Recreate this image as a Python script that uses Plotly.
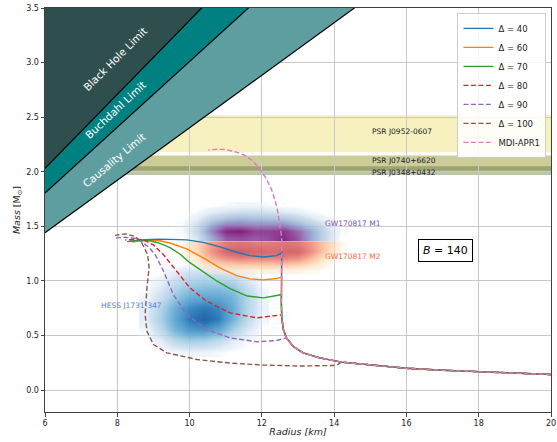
import plotly.graph_objects as go

# ---------------- data ----------------
# shared hadronic (MDI-APR1) branch, increasing mass
HAD_R = [20.0, 19.0, 18.0, 17.0, 16.0, 15.0, 14.2, 13.6, 13.14, 12.87, 12.68, 12.59, 12.55,
         12.54, 12.54, 12.55, 12.55, 12.5, 12.45, 12.38, 12.27, 12.1, 11.95, 11.75, 11.5,
         11.25, 11.0, 10.75, 10.52]
HAD_M = [0.143, 0.155, 0.168, 0.183, 0.200, 0.228, 0.257, 0.296, 0.342, 0.40, 0.479, 0.56, 0.68,
         0.80, 1.00, 1.20, 1.40, 1.50, 1.62, 1.72, 1.836, 1.95, 2.02, 2.10, 2.155,
         2.185, 2.203, 2.207, 2.200]

# hybrid branches (from the transition point leftwards)
D40_R = [12.55, 12.41, 12.04, 11.67, 11.30, 10.84, 10.38, 9.92, 9.46, 9.18, 8.72, 8.31]
D40_M = [1.257, 1.232, 1.220, 1.232, 1.263, 1.312, 1.354, 1.376, 1.382, 1.383, 1.377, 1.363]
D60_R = [12.55, 12.41, 12.04, 11.67, 11.30, 10.84, 10.38, 9.92, 9.46, 9.18, 8.72, 8.40]
D60_M = [1.037, 1.022, 1.010, 1.019, 1.049, 1.120, 1.211, 1.294, 1.348, 1.368, 1.372, 1.356]
D70_R = [12.54, 12.45, 12.04, 11.60, 11.12, 10.75, 10.38, 10.0, 9.74, 9.46, 9.18, 8.90, 8.72, 8.50, 8.27]
D70_M = [0.876, 0.869, 0.845, 0.862, 0.930, 1.000, 1.080, 1.170, 1.245, 1.305, 1.345, 1.368, 1.372, 1.368, 1.360]
D80_R = [12.54, 12.45, 11.86, 11.12, 10.47, 10.01, 9.65, 9.28, 9.00, 8.72, 8.50, 8.22]
D80_M = [0.690, 0.686, 0.662, 0.708, 0.814, 0.937, 1.089, 1.240, 1.330, 1.378, 1.383, 1.375]
D90_R = [12.68, 12.41, 11.86, 11.12, 10.47, 9.92, 9.55, 9.28, 9.06, 8.90, 8.72, 8.54, 8.22, 7.94]
D90_M = [0.479, 0.455, 0.443, 0.479, 0.555, 0.693, 0.876, 1.089, 1.235, 1.300, 1.350, 1.388, 1.400, 1.394]
D100_R = [14.2, 14.1, 13.97, 13.05, 12.04, 11.12, 10.2, 9.37, 9.0, 8.82, 8.77, 8.82, 8.88, 8.84,
          8.68, 8.49, 8.22, 7.94]
D100_M = [0.257, 0.235, 0.226, 0.221, 0.230, 0.248, 0.281, 0.342, 0.418, 0.540, 0.693, 0.937, 1.120,
          1.240, 1.348, 1.409, 1.431, 1.418]

LABELS = ["Δ = 40", "Δ = 60", "Δ = 70", "Δ = 80", "Δ = 90", "Δ = 100"]
BRANCHES = [(D40_R, D40_M), (D60_R, D60_M), (D70_R, D70_M), (D80_R, D80_M), (D90_R, D90_M), (D100_R, D100_M)]
COLORS = ["#1f77b4", "#ff7f0e", "#2ca02c", "#d62728", "#9467bd", "#8c564b"]
DASHED = [False, False, False, True, True, True]

# limits: M = slope * R  (M in Msun, R in km)
BH_SLOPE = 1 / 2.953
BUCH_SLOPE = 1 / 3.322
CAUS_SLOPE = 1 / 4.16
LIMIT_R = [6.0, 20.0]

# pulsar mass bands (lo, hi)
PSR_NAMES = ["PSR J0952-0607", "PSR J0740+6620", "PSR J0348+0432"]
PSR_LO = [2.18, 2.01, 1.97]
PSR_HI = [2.52, 2.15, 2.05]
PSR_LABEL_M = [2.37, 2.10, 1.995]
PSR_FILL = ["rgba(240,230,140,0.55)", "rgba(128,128,0,0.4)", "rgba(85,107,47,0.4)"]

# density grids
HESS_R = [8.8, 9.2, 9.6, 10.0, 10.4, 10.8, 11.2, 11.6, 12.0]
HESS_M = [0.35, 0.45, 0.55, 0.65, 0.75, 0.85, 0.95, 1.05, 1.15]
HESS_Z = [
    [0, 0, 0.02, 0.04, 0.04, 0.02, 0, 0, 0],
    [0, 0.08, 0.25, 0.35, 0.32, 0.22, 0.08, 0.02, 0],
    [0.02, 0.25, 0.55, 0.72, 0.75, 0.62, 0.35, 0.12, 0],
    [0.08, 0.35, 0.65, 0.90, 1.0, 0.88, 0.55, 0.25, 0.03],
    [0.08, 0.32, 0.60, 0.82, 0.90, 0.82, 0.60, 0.30, 0.05],
    [0.03, 0.20, 0.42, 0.60, 0.65, 0.65, 0.55, 0.30, 0.04],
    [0, 0.10, 0.28, 0.40, 0.45, 0.45, 0.40, 0.20, 0.02],
    [0, 0.02, 0.12, 0.22, 0.25, 0.22, 0.16, 0.06, 0],
    [0, 0, 0, 0.02, 0.03, 0.02, 0, 0, 0],
]
GW_R = [9.8, 10.2, 10.6, 11.0, 11.4, 11.8, 12.2, 12.6, 13.0, 13.4, 13.8, 14.2]
M1_M = [1.393, 1.453, 1.513, 1.573, 1.633, 1.693]
M1_Z = [
    [0, 0.12, 0.40, 0.70, 0.75, 0.70, 0.75, 0.90, 0.70, 0.40, 0.15, 0],
    [0.02, 0.18, 0.55, 0.90, 0.95, 0.80, 0.80, 0.85, 0.65, 0.40, 0.15, 0.02],
    [0.02, 0.15, 0.40, 0.60, 0.60, 0.55, 0.55, 0.55, 0.40, 0.25, 0.10, 0],
    [0, 0.06, 0.20, 0.30, 0.35, 0.32, 0.30, 0.28, 0.20, 0.10, 0.03, 0],
    [0, 0.02, 0.08, 0.12, 0.15, 0.15, 0.13, 0.10, 0.06, 0.02, 0, 0],
    [0, 0, 0, 0.02, 0.03, 0.03, 0.02, 0, 0, 0, 0, 0],
]
M2_M = [1.093, 1.153, 1.213, 1.273, 1.333]
M2_Z = [
    [0, 0, 0.02, 0.03, 0.04, 0.04, 0.04, 0.04, 0.03, 0.02, 0, 0],
    [0, 0.04, 0.15, 0.25, 0.28, 0.28, 0.28, 0.28, 0.25, 0.12, 0.02, 0],
    [0, 0.10, 0.40, 0.60, 0.70, 0.65, 0.65, 0.70, 0.60, 0.35, 0.08, 0],
    [0.02, 0.18, 0.55, 0.85, 0.95, 0.85, 0.80, 0.85, 0.85, 0.55, 0.20, 0.02],
    [0.02, 0.20, 0.50, 0.70, 0.75, 0.70, 0.70, 0.75, 0.70, 0.50, 0.22, 0.02],
]

X_TICKS = [6, 8, 10, 12, 14, 16, 18, 20]
Y_TICKS = [0.0, 0.5, 1.0, 1.5, 2.0, 2.5, 3.0, 3.5]

FONT = "DejaVu Sans"

# ---------------- figure ----------------
fig = go.Figure()

# limit regions
fig.add_trace(go.Scatter(x=LIMIT_R, y=[3.7, 3.7], mode="lines", line=dict(width=0),
                         showlegend=False, hoverinfo="skip"))
for slope, col in [(BH_SLOPE, "#2f4f4f"), (BUCH_SLOPE, "#008080"), (CAUS_SLOPE, "#5f9ea0")]:
    fig.add_trace(go.Scatter(x=LIMIT_R, y=[slope * r for r in LIMIT_R], mode="lines",
                             line=dict(color="black", width=1.2), fill="tonexty",
                             fillcolor=col, showlegend=False, hoverinfo="skip"))

# density blobs
blues = [[0, "rgba(247,251,255,0)"], [0.03, "rgba(222,235,247,0.5)"],
         [0.15, "rgba(198,219,239,0.8)"], [0.35, "rgba(158,202,225,0.9)"],
         [0.55, "rgba(107,174,214,0.92)"], [0.75, "rgba(66,146,198,0.95)"],
         [0.9, "rgba(33,113,181,0.95)"], [1.0, "rgba(25,90,160,0.95)"]]
bupu = [[0, "rgba(247,252,253,0)"], [0.03, "rgba(224,236,244,0.5)"],
        [0.15, "rgba(191,211,230,0.8)"], [0.3, "rgba(158,188,218,0.85)"],
        [0.45, "rgba(140,150,198,0.88)"], [0.6, "rgba(140,107,177,0.9)"],
        [0.75, "rgba(140,60,150,0.92)"], [0.9, "rgba(125,25,120,0.92)"],
        [1.0, "rgba(105,5,100,0.92)"]]
orrd = [[0, "rgba(255,247,236,0)"], [0.03, "rgba(254,232,205,0.5)"],
        [0.15, "rgba(253,212,170,0.75)"], [0.35, "rgba(250,170,135,0.8)"],
        [0.55, "rgba(235,120,105,0.8)"], [0.75, "rgba(212,85,88,0.82)"],
        [0.9, "rgba(198,65,72,0.82)"], [1.0, "rgba(180,45,55,0.82)"]]

for xs, ys, zs, sc in [(HESS_R, HESS_M, HESS_Z, blues), (GW_R, M1_M, M1_Z, bupu),
                       (GW_R, M2_M, M2_Z, orrd)]:
    fig.add_trace(go.Heatmap(x=xs, y=ys, z=zs, colorscale=sc, zmin=0, zmax=1,
                             zsmooth="best", showscale=False, hoverinfo="skip"))

# hybrid curves
for lab, (br, bm), col, dsh in zip(LABELS, BRANCHES, COLORS, DASHED):
    m0 = bm[0]
    xs = [r for r, m in zip(HAD_R, HAD_M) if m < m0] + br
    ys = [m for m in HAD_M if m < m0] + bm
    fig.add_trace(go.Scatter(x=xs, y=ys, mode="lines", name=lab,
                             line=dict(color=col, width=1.4, dash="5px,2.5px" if dsh else "solid")))

fig.add_trace(go.Scatter(x=HAD_R, y=HAD_M, mode="lines", name="MDI-APR1",
                         line=dict(color="#e377c2", width=1.4, dash="5px,2.5px")))

# pulsar bands
shapes = []
for lo, hi, fc in zip(PSR_LO, PSR_HI, PSR_FILL):
    shapes.append(dict(type="rect", xref="paper", x0=0, x1=1, yref="y", y0=lo, y1=hi,
                       fillcolor=fc, line=dict(width=0), layer="below"))

annotations = []
for name, ym in zip(PSR_NAMES, PSR_LABEL_M):
    annotations.append(dict(x=15.0, y=ym, text=name, showarrow=False, xanchor="left",
                            yanchor="middle", font=dict(size=7.5, color="#222", family=FONT)))

for txt, x, y, ang in [("Black Hole Limit", 7.94, 3.03, -45), ("Buchdahl Limit", 7.94, 2.57, -43),
                       ("Causality Limit", 7.91, 2.11, -40)]:
    annotations.append(dict(x=x, y=y, text=txt, showarrow=False, textangle=ang,
                            font=dict(size=10.5, color="white", family=FONT)))

for txt, x, y, col in [("GW170817 M1", 13.7, 1.525, "#8250b0"), ("GW170817 M2", 13.7, 1.226, "#f26b45"),
                       ("HESS J1731-347", 7.5, 0.775, "#5a7de6")]:
    annotations.append(dict(x=x, y=y, text=txt, showarrow=False, xanchor="left", yanchor="middle",
                            font=dict(size=7.5, color=col, family=FONT)))

annotations.append(dict(x=17.08, y=1.276, text="<i>B</i> = 140", showarrow=False,
                        font=dict(size=11, color="black", family=FONT), bordercolor="black",
                        borderwidth=1, borderpad=4, bgcolor="white"))

fig.update_layout(
    width=557, height=442,
    margin=dict(l=45, r=6, t=8, b=30),
    paper_bgcolor="white", plot_bgcolor="white",
    font=dict(family=FONT, size=8, color="#222"),
    shapes=shapes, annotations=annotations,
    legend=dict(x=0.991, y=0.988, xanchor="right", yanchor="top", traceorder="normal",
                bgcolor="rgba(255,255,255,0.85)", bordercolor="#cccccc", borderwidth=1,
                font=dict(size=8.5, family=FONT), tracegroupgap=0, itemwidth=30),
    xaxis=dict(range=[6, 20], tickvals=X_TICKS, ticks="outside", ticklen=3.5,
               showgrid=True, gridcolor="#c8c8c8", gridwidth=1, zeroline=False,
               showline=True, linecolor="#404040", linewidth=1, mirror=True,
               title=dict(text="<i>Radius [km]</i>", standoff=1, font=dict(size=9.5)),
               automargin=False),
    yaxis=dict(range=[-0.2, 3.5], tickvals=Y_TICKS, tickformat=".1f", ticks="outside", ticklen=3.5,
               showgrid=True, gridcolor="#c8c8c8", gridwidth=1, zeroline=False,
               showline=True, linecolor="#404040", linewidth=1, mirror=True,
               title=dict(text="<i>Mass</i> [M<sub>⊙</sub>]", standoff=3, font=dict(size=9.5)),
               automargin=False),
)

fig.write_html("out.html", config={"displayModeBar": False},
               post_script="document.body.style.margin='0';")
